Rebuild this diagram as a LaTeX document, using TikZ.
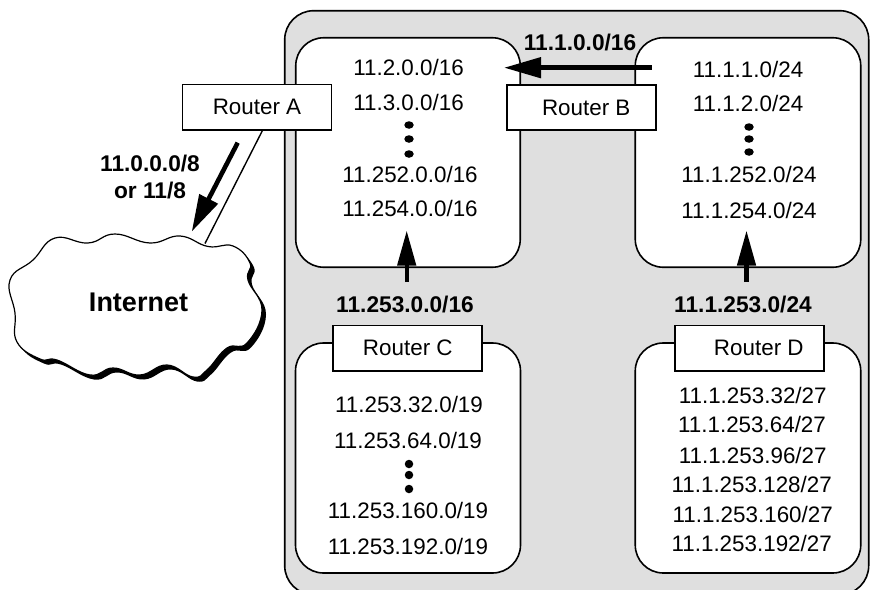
\documentclass[tikz,border=0pt]{standalone}
\usepackage{fontspec}
\setmainfont{Liberation Sans}
\usetikzlibrary{arrows.meta,shapes.geometric}
\definecolor{panelgray}{HTML}{DFDFDF}
\tikzset{
  panel/.style={draw=black,line width=1.6pt,fill=white,rounded corners=28pt,inner sep=0pt,outer sep=0pt},
  outerpanel/.style={panel,fill=panelgray,rounded corners=29pt},
  router/.style={draw=black,line width=1.7pt,fill=white,inner sep=0pt,outer sep=0pt,minimum width=149pt,minimum height=45.5pt,font=\fontsize{22.4}{26}\selectfont},
  net/.style={inner sep=0pt,yshift=0.6pt,font=\fontsize{22.4}{26}\selectfont},
  boldnet/.style={inner sep=0pt,font=\fontsize{22.7}{26}\selectfont\bfseries},
  dot/.style={fill=black,draw=none,ellipse,inner sep=0pt,minimum width=9.5pt,minimum height=7.5pt},
  route/.style={line width=4.6pt,-{Triangle[length=37pt,width=20pt]}},
  routeup/.style={line width=4.4pt,-{Triangle[length=35pt,width=18pt]}},
  link/.style={line width=1.4pt}
}
\newcommand{\cloudpath}{
  plot[smooth cycle,tension=0.75] coordinates {
  (208,246.5) (233,246) (250,263) (248,280) (262,310) (247,343) (227,348) (207,370)
  (193,377) (167,365) (140,375) (113,368) (90,375) (57,360) (40,359) (17,342)
  (15,313) (10,280) (33,260) (55,238) (88,243) (115,234) (150,243) (180,236)}
}
\begin{document}
\begin{tikzpicture}[x=1pt,y=-1pt]
\clip (0,0) rectangle (875,589);
\fill[white] (0,0) rectangle (875,589);
% enclosing area
\node[outerpanel,minimum width=584pt,minimum height=584pt] (area) at (576.7,302.7) {};
% panels
\node[panel,minimum width=224.5pt,minimum height=229.5pt] (tl) at (408,152.5) {};
\node[panel,minimum width=225.5pt,minimum height=229.5pt] (tr) at (748,152.5) {};
\node[panel,minimum width=225pt,minimum height=230pt] (bl) at (408,458) {};
\node[panel,minimum width=225.5pt,minimum height=230pt] (br) at (748,458) {};
% connector to the cloud
\coordinate (linkend) at (205,243.5);
\coordinate (linkstart) at (262.7,130);
\draw[link] (linkstart) -- (linkend);
% cloud
\fill[black,xshift=4pt,yshift=-4.5pt] \cloudpath;
\filldraw[fill=white,draw=black,line width=1.2pt] \cloudpath;
\node[boldnet,font=\fontsize{27}{30}\selectfont\bfseries] (internet) at (138.5,302) {Internet};
% routers
\node[router] (ra) at (257,107.3) {Router A\hspace{20pt}};
\node[router] (rb) at (581.2,107.5) {\hspace{10pt}Router B};
\node[router] (rc) at (407.8,348.2) {Router C\hspace{8pt}};
\node[router] (rd) at (749.8,348.2) {\hspace{18pt}Router D};
% arrows
\coordinate (a1s) at (237.7,142.7);
\coordinate (a1e) at (191.7,231.7);
\draw[route] (a1s) -- (a1e);
\coordinate (a2s) at (651.7,67.7);
\coordinate (a2e) at (504,67.7);
\draw[route] (a2s) -- (a2e);
\coordinate (a3s) at (406.7,282) ;
\coordinate (a3e) at (406.7,230.5);
\draw[routeup] (a3s) -- (a3e);
\coordinate (a4s) at (746.5,282);
\coordinate (a4e) at (746.5,230.5);
\draw[routeup] (a4s) -- (a4e);
% bold labels
\node[boldnet] (l1) at (150,164) {11.0.0.0/8};
\node[boldnet] (l2) at (150,191) {or 11/8};
\node[boldnet] (l3) at (580,43) {11.1.0.0/16};
\node[boldnet] (l4) at (405,304) {11.253.0.0/16};
\node[boldnet] (l5) at (743,304) {11.1.253.0/24};
% top-left list
\node[net] (t1) at (408.5,67.7) {11.2.0.0/16};
\node[net] (t2) at (408.5,103) {11.3.0.0/16};
\node[dot] (t3) at (409,125) {};
\node[dot] (t4) at (409,139) {};
\node[dot] (t5) at (409,154) {};
\node[net] (t6) at (410,175) {11.252.0.0/16};
\node[net] (t7) at (410,209) {11.254.0.0/16};
% top-right list
\node[net] (u1) at (748,70) {11.1.1.0/24};
\node[net] (u2) at (748,104) {11.1.2.0/24};
\node[dot] (u3) at (749,127) {};
\node[dot] (u4) at (749,139) {};
\node[dot] (u5) at (749,152) {};
\node[net] (u6) at (749,175) {11.1.252.0/24};
\node[net] (u7) at (749,211) {11.1.254.0/24};
% bottom-left list
\node[net] (v1) at (409,405) {11.253.32.0/19};
\node[net] (v2) at (408,441) {11.253.64.0/19};
\node[dot,minimum width=8.5pt,minimum height=8.5pt] (v3) at (409,464) {};
\node[dot,minimum width=8.5pt,minimum height=8.5pt] (v4) at (409,475) {};
\node[dot,minimum width=8.5pt,minimum height=8.5pt] (v5) at (409,489) {};
\node[net] (v6) at (408,511) {11.253.160.0/19};
\node[net] (v7) at (408,547) {11.253.192.0/19};
% bottom-right list
\node[net] (w1) at (752.7,396) {11.1.253.32/27};
\node[net] (w2) at (752,425) {11.1.253.64/27};
\node[net] (w3) at (752.7,456) {11.1.253.96/27};
\node[net] (w4) at (751.7,485) {11.1.253.128/27};
\node[net] (w5) at (752.7,515) {11.1.253.160/27};
\node[net] (w6) at (751.7,544) {11.1.253.192/27};
\end{tikzpicture}
\end{document}
